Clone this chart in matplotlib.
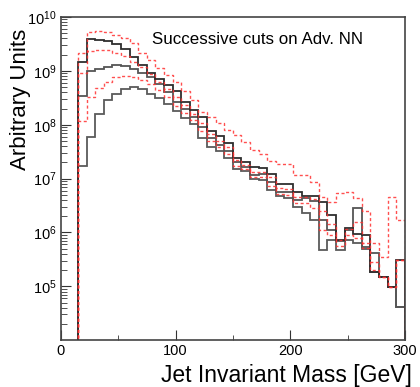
import numpy as np
import matplotlib
matplotlib.use("Agg")
import matplotlib.pyplot as plt
from matplotlib.ticker import LogLocator

plt.rcParams['font.family'] = ['Liberation Sans', 'DejaVu Sans']

# bin edges: 40 bins of 7.5 GeV from 0 to 300
edges = np.linspace(0, 300, 41)

# red dashed histograms
red_top = [0, 0,
           2.14e9, 5.37e9, 5.62e9, 5.25e9, 4.68e9, 4.07e9, 3.31e9, 2.19e9, 1.58e9, 1.15e9,
           8.3e8, 6.3e8, 4.17e8, 2.88e8, 1.74e8, 1.38e8, 1.07e8, 7.9e7, 6.5e7, 4.7e7,
           3.4e7, 2.9e7, 2.14e7, 1.86e7, 1.86e7, 1.17e7, 1.17e7, 8.7e6, 4.6e6, 3.7e6,
           5.4e6, 5.6e6, 4.4e6, 2.45e6, 6.3e5, 3.5e5, 4.6e6, 1.7e6]
red_mid = [0, 0,
           9.1e8, 2.34e9, 2.45e9, 2.4e9, 2.14e9, 1.86e9, 1.48e9, 1.17e9, 8.7e8, 6.3e8,
           4.57e8, 3.31e8, 2.29e8, 1.58e8, 1.1e8, 6.6e7, 5.0e7, 3.8e7, 2.19e7, 1.82e7,
           1.35e7, 1.32e7, 1.07e7, 6.6e6, 6.3e6, 4.57e6, 4.47e6, 4.17e6, 2.51e6, 1.41e6,
           7.1e5, 1.15e6, 1.58e6, 6.3e5, 2.8e5, 1.51e5, 9.8e4, 3.1e5]
red_low = [0, 0,
           1.15e8, 3.31e8, 4.8e8, 6.3e8, 7.6e8, 7.9e8, 7.8e8, 6.8e8, 5.6e8, 4.47e8,
           3.31e8, 2.24e8, 1.66e8, 1.2e8, 7.6e7, 5.0e7, 3.8e7, 2.9e7, 1.74e7, 1.51e7,
           1.07e7, 1.07e7, 7.2e6, 5.25e6, 5.0e6, 3.55e6, 3.55e6, 2.82e6, 1.12e6, 8.9e5,
           5.6e5, 8.9e5, 7.9e5, 5.1e5, 2.0e5, 1.51e5, 9.8e4, 3.1e5]

# black solid histograms
blk_top = [0, 0,
           1.45e9, 3.98e9, 3.8e9, 3.55e9, 3.16e9, 2.51e9, 1.82e9, 1.26e9, 9.3e8, 7.1e8,
           5.5e8, 4.27e8, 2.63e8, 1.9e8, 1.38e8, 7.6e7, 6.3e7, 4.57e7, 2.4e7, 2.04e7,
           1.66e7, 1.58e7, 1.2e7, 8.1e6, 8.1e6, 5.75e6, 4.68e6, 4.68e6, 3.72e6, 2.09e6,
           7.2e5, 1.2e6, 9.5e5, 8.9e5, 1.86e5, 1.51e5, 9.8e4, 3.1e5]
blk_mid = [0, 0,
           3.47e8, 9.8e8, 1.07e9, 1.17e9, 1.26e9, 1.23e9, 1.1e9, 9.3e8, 7.6e8, 5.6e8,
           4.0e8, 2.7e8, 2.0e8, 1.38e8, 8.9e7, 5.75e7, 4.17e7, 3.31e7, 2.0e7, 1.66e7,
           1.17e7, 1.2e7, 8.7e6, 5.75e6, 5.75e6, 3.98e6, 4.37e6, 3.8e6, 1.7e6, 1.1e6,
           6.8e5, 1.1e6, 2.8e6, 5.4e5, 4.07e5, 1.51e5, 9.8e4, 4.2e4]
blk_low = [0, 0,
           1.74e7, 5.9e7, 1.58e8, 2.82e8, 3.8e8, 4.68e8, 5.0e8, 4.57e8, 3.8e8, 3.09e8,
           2.4e8, 1.78e8, 1.35e8, 1.05e8, 5.75e7, 3.8e7, 3.31e7, 2.4e7, 1.51e7, 1.38e7,
           1.0e7, 9.5e6, 6.2e6, 4.8e6, 4.37e6, 3.02e6, 2.29e6, 1.7e6, 4.7e5, 7.2e5,
           4.7e5, 7.2e5, 6.3e5, 5.0e5, 1.86e5, 1.51e5, 9.8e4, 4.2e4]

y_major = [1e5, 1e6, 1e7, 1e8, 1e9, 1e10]

fig = plt.figure(figsize=(4.2, 3.87), dpi=100)
ax = fig.add_axes([0.145, 0.121, 0.819, 0.835])
ax.set_yscale('log')

# solid ones first, red dashed drawn over them
for vals, col in [(blk_low, '#5a5a5a'), (blk_mid, '#555555'), (blk_top, '#2e2e2e')]:
    ax.stairs(vals, edges, color=col, lw=1.3)
for vals in [red_low, red_mid, red_top]:
    ax.stairs(vals, edges, color='#ff3030', lw=1.0, alpha=0.85,
              linestyle=(0, (2.2, 1.8)))

ax.set_xlim(0, 300)
ax.set_ylim(1e4, 1e10)

ax.set_xticks([0, 100, 200, 300])
ax.set_xticks([50, 150, 250], minor=True)
ax.set_yticks(y_major)
ax.yaxis.set_minor_locator(LogLocator(base=10, subs=np.arange(2, 10), numticks=20))
ax.tick_params(axis='both', which='both', direction='in', top=False, right=False,
               labelsize=10.5, colors='#333333', labelcolor='black')
ax.tick_params(axis='y', which='major', length=7.5, pad=3)
ax.tick_params(axis='y', which='minor', length=4)
ax.tick_params(axis='x', which='major', length=7, pad=3)
ax.tick_params(axis='x', which='minor', length=3.5)
for sp in ax.spines.values():
    sp.set_color('#444444')
    sp.set_linewidth(1.2)

ax.set_xlabel('Jet Invariant Mass [GeV]', fontsize=16.5, loc='right')
ax.xaxis.set_label_coords(1.02, -0.075)
ax.xaxis.label.set_va('top')
ax.set_ylabel('Arbitrary Units', fontsize=16, loc='top')
ax.yaxis.set_label_coords(-0.088, 0.965)

ax.text(0.265, 0.93, 'Successive cuts on Adv. NN', transform=ax.transAxes,
        fontsize=12.2, va='center', ha='left')

fig.savefig('out.png', dpi=100)
